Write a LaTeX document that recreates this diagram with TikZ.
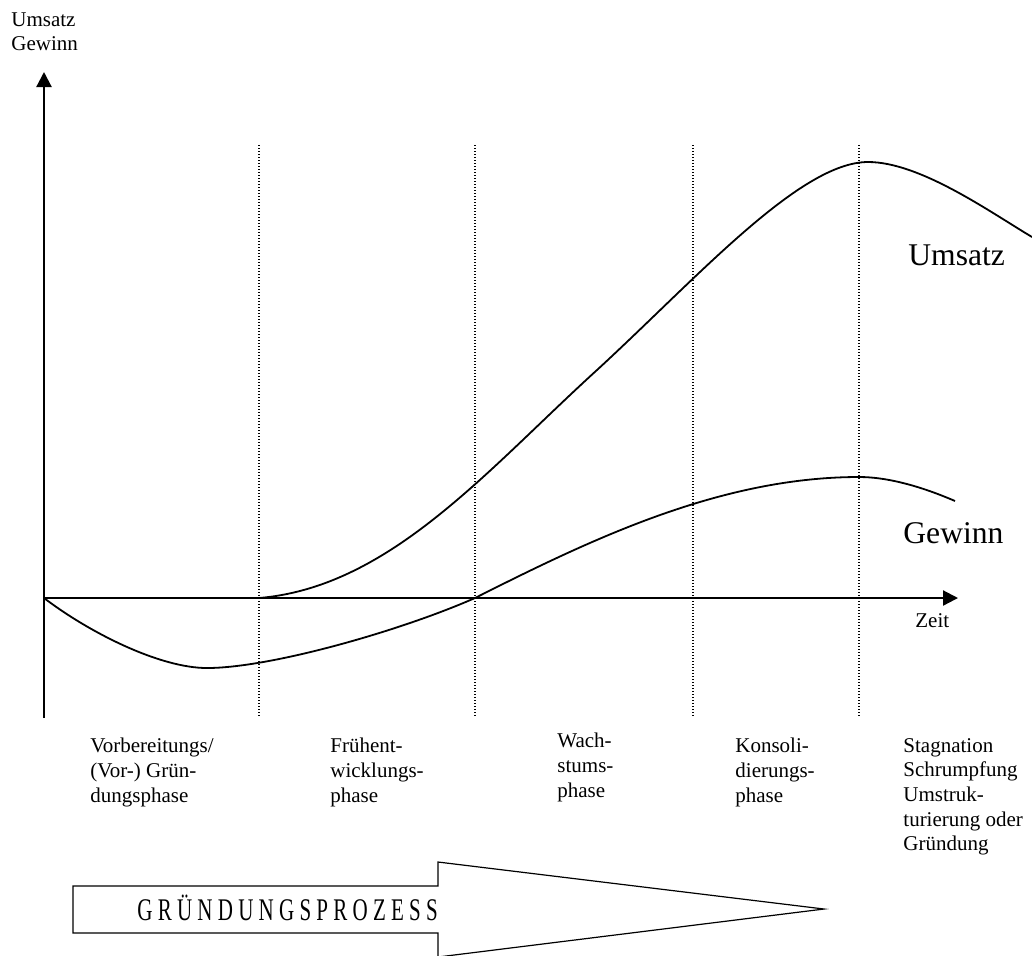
\documentclass[tikz,border=0pt]{standalone}
\usepackage{fontspec}
\setmainfont{Liberation Serif}
\usepackage{tikz}
\usetikzlibrary{arrows.meta}
\usetikzlibrary{positioning}
\usetikzlibrary{calc}

\tikzset{
    axisline/.style   = {line width = 1.1pt, -{Triangle[length = 7.5pt, width = 7.5pt]}},
    phaseline/.style  = {line width = .6pt, dash pattern = on .5pt off 1pt},
    curveline/.style  = {line width = .9pt},
    smalltext/.style  = {inner sep = 0pt, font = \fontsize{10.5}{12.3}\selectfont, align = left},
    bigtext/.style    = {inner sep = 0pt, anchor = base west, font = \fontsize{15.8}{18}\selectfont}
}

\begin{document}
\begin{tikzpicture}[x = .5pt, y = -.5pt]
                \useasboundingbox (0,0) rectangle (1032,955);

                % Draw the axes:
                \coordinate (O)    at ( 44,598);
                \coordinate (ybot) at ( 44,718);
                \coordinate (ytop) at ( 44, 72);
                \coordinate (xend) at (958,598);
                \draw [axisline] (ybot) -- (ytop);
                \draw [axisline] (O) -- (xend);

                % Draw the phase borders:
                \foreach \x in {259, 475, 693, 859}
                    \draw [phaseline] (\x,145) -- (\x,718);

                % Draw the curves:
                \draw [curveline] (259,598) .. controls (390,587) and (487,470) .. (597,370)
                    .. controls (697,278) and (800,162) .. (868,162)
                    .. controls (920,162) and (990,212) .. (1032,237);
                \draw [curveline] (O) .. controls (90,633) and (160,668) .. (207,668)
                    .. controls (270,668) and (400,631) .. (475,598)
                    .. controls (590,540) and (720,477) .. (859,477)
                    .. controls (890,477) and (925,488) .. (955,501);

                % Draw the axis labels:
                \node [smalltext, anchor = north west] (ylabel) at (11,12) {Umsatz\\Gewinn};
                \node [smalltext, anchor = base west] (zeit) at (915,627) {Zeit};
                \node [bigtext] (umsatz) at (908,265) {Umsatz};
                \node [bigtext] (gewinn) at (903,543) {Gewinn};

                % Draw the phase names:
                \node [smalltext, anchor = north west] (phase1) at ( 90,738) {Vorbereitungs/\\(Vor-) Grün-\\dungsphase};
                \node [smalltext, anchor = north west] (phase2) at (330,738) {Frühent-\\wicklungs-\\phase};
                \node [smalltext, anchor = north west] (phase3) at (557,733) {Wach-\\stums-\\phase};
                \node [smalltext, anchor = north west] (phase4) at (735,738) {Konsoli-\\dierungs-\\phase};
                \node [smalltext, anchor = north west] (phase5) at (903,738) {Stagnation\\Schrumpfung\\Umstruk-\\turierung oder\\Gründung};

                % Draw the process arrow:
                \draw [line width = .6pt] (73,886) -- (438,886) -- (438,862) -- (824,909)
                    -- (438,957) -- (438,933) -- (73,933) -- cycle;
                \node [smalltext, anchor = base west] (prozess) at (137,920)
                    {\scalebox{1}[1.5]{G R Ü N D U N G S P R O Z E S S}};
            \end{tikzpicture}
\end{document}
